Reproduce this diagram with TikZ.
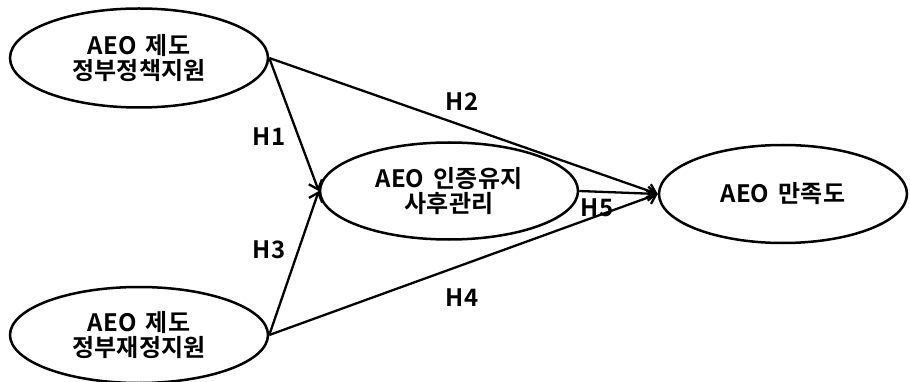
\documentclass[tikz,border=0pt]{standalone}
\usepackage{fontspec}
\setmainfont{Noto Sans CJK KR}[BoldFont={* Bold}]
\newfontfamily\kr{Noto Sans CJK KR Bold}
\usetikzlibrary{shapes.geometric,arrows.meta}
\begin{document}
\begin{tikzpicture}[x=1pt,y=-1pt,
  ell/.style={draw,line width=2.5pt,ellipse,minimum width=#1,align=center,inner sep=0pt},
  txt/.style={font=\kr\fontsize{24}{25}\selectfont},
  conn/.style={line width=2.3pt,-{Straight Barb[length=8pt,width=14pt,line width=2.3pt]}},
  lab/.style={font=\kr\fontsize{24}{25}\selectfont}]
\useasboundingbox (0,0) rectangle (910,382);
\node[ell=258pt,minimum height=99pt,txt] (a) at (139,58) {AEO\hspace{4pt} 제도\\정부정책지원};
\node[ell=258pt,minimum height=96pt,txt] (b) at (139,335) {AEO\hspace{4pt} 제도\\정부재정지원};
\node[ell=258pt,minimum height=97pt,txt] (m) at (449,191) {AEO\hspace{4pt} 인증유지\\사후관리};
\node[ell=248pt,minimum height=98pt,txt] (r) at (783,194) {AEO\hspace{4pt} 만족도};
\coordinate (ae) at (a.east);
\coordinate (be) at (b.east);
\draw[conn] (ae) -- (m.west);
\draw[conn] (ae) -- (r.west);
\draw[conn] (be) -- (m.west);
\draw[conn] (be) -- (r.west);
\draw[conn] (m.east) -- (r.west);
\node[lab] (h1) at (269,137) {H1};
\node[lab] (h2) at (462,102) {H2};
\node[lab] (h3) at (269,250) {H3};
\node[lab] (h4) at (462,298) {H4};
\node[lab] (h5) at (597,208) {H5};
\end{tikzpicture}
\end{document}
